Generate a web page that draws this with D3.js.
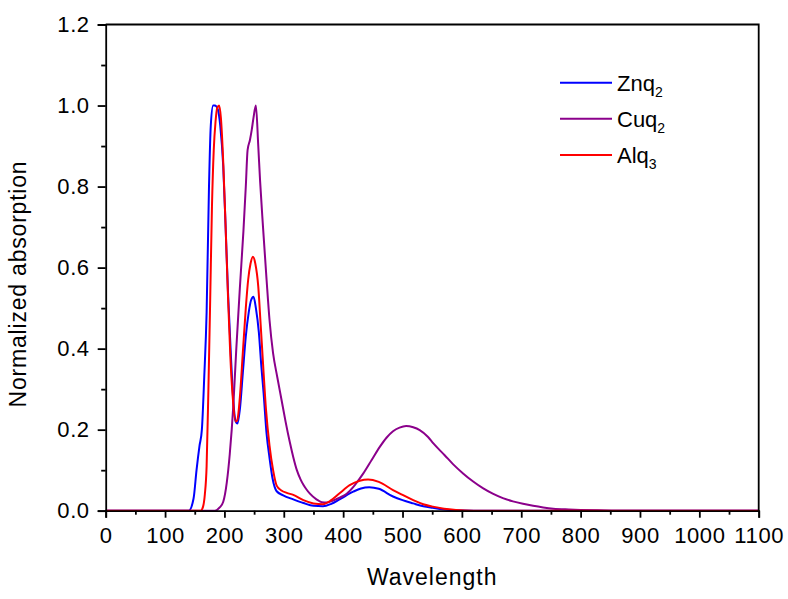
<!DOCTYPE html>
<html>
<head>
<meta charset="utf-8">
<script src="https://cdn.jsdelivr.net/npm/d3@7"></script>
<style>
  html, body { margin: 0; padding: 0; background: #fff; }
  svg { display: block; font-family: "Liberation Sans", Arial, sans-serif; }
</style>
</head>
<body>
<svg id="chart" width="788" height="599"></svg>
<script>
// ---- data ----
const seriesNames = ["Znq", "Cuq", "Alq"];
const seriesSubs = ["2", "2", "3"];
const seriesColors = ["#0000ff", "#8b008b", "#ff0000"];

const znqWave = [0, 140, 148, 153, 158, 162, 166, 170, 174, 177, 181, 184, 189, 193, 198, 202, 206, 211, 215, 219, 222, 226, 231, 236, 241, 245, 249, 253, 258, 262, 266, 271, 276, 281, 288, 299, 316, 333, 350, 366, 380, 394, 417, 430, 444, 460, 484, 500, 518, 535, 551, 570, 590, 620, 1100];
const znqAbs  = [0, 0, 0.03, 0.10, 0.16, 0.20, 0.33, 0.49, 0.80, 0.95, 1.0, 1.0, 0.99, 0.95, 0.85, 0.70, 0.54, 0.38, 0.27, 0.22, 0.215, 0.25, 0.34, 0.43, 0.49, 0.52, 0.528, 0.50, 0.44, 0.36, 0.29, 0.19, 0.13, 0.08, 0.048, 0.038, 0.028, 0.019, 0.012, 0.011, 0.017, 0.028, 0.047, 0.055, 0.058, 0.054, 0.035, 0.026, 0.018, 0.011, 0.007, 0.003, 0.001, 0, 0];

const cuqWave = [0, 184, 192, 198, 204, 209, 215, 220, 226, 232, 236, 239, 243, 246, 249, 253, 257, 260, 265, 271, 276, 282, 289, 296, 303, 310, 316, 322, 328, 333, 338, 344, 355, 364, 372, 385, 394, 406, 420, 434, 448, 462, 473, 484, 495, 506, 518, 529, 543, 552, 571, 585, 602, 619, 636, 652, 669, 686, 703, 720, 737, 754, 780, 800, 830, 860, 1100];
const cuqAbs  = [0, 0, 0.008, 0.022, 0.07, 0.14, 0.26, 0.40, 0.55, 0.69, 0.80, 0.89, 0.915, 0.94, 0.97, 1.0, 0.90, 0.816, 0.70, 0.57, 0.47, 0.388, 0.33, 0.275, 0.22, 0.17, 0.132, 0.10, 0.078, 0.064, 0.053, 0.042, 0.028, 0.021, 0.02, 0.026, 0.032, 0.042, 0.064, 0.092, 0.125, 0.158, 0.18, 0.196, 0.205, 0.209, 0.206, 0.199, 0.182, 0.166, 0.137, 0.115, 0.092, 0.072, 0.055, 0.042, 0.031, 0.023, 0.017, 0.012, 0.008, 0.005, 0.003, 0.002, 0.001, 0, 0];

const alqWave = [0, 160, 164, 167, 170, 173, 176, 179, 182, 185, 188, 191, 194, 198, 202, 206, 210, 214, 219, 222, 226, 231, 236, 240, 244, 248, 252, 257, 261, 265, 270, 276, 282, 288, 296, 305, 316, 333, 350, 366, 380, 394, 411, 428, 442, 460, 484, 500, 518, 535, 551, 570, 590, 620, 1100];
const alqAbs  = [0, 0, 0.01, 0.04, 0.11, 0.30, 0.52, 0.75, 0.89, 0.96, 0.995, 1.0, 0.97, 0.86, 0.70, 0.53, 0.38, 0.28, 0.22, 0.225, 0.28, 0.39, 0.50, 0.57, 0.61, 0.627, 0.61, 0.553, 0.46, 0.364, 0.25, 0.16, 0.10, 0.062, 0.050, 0.044, 0.039, 0.026, 0.018, 0.016, 0.026, 0.043, 0.063, 0.074, 0.077, 0.071, 0.051, 0.039, 0.026, 0.016, 0.010, 0.005, 0.002, 0, 0];

const xTicks = [0, 100, 200, 300, 400, 500, 600, 700, 800, 900, 1000, 1100];
const yTicks = [0.0, 0.2, 0.4, 0.6, 0.8, 1.0, 1.2];
const xTitle = "Wavelength";
const yTitle = "Normalized absorption";

// ---- layout ----
const svg = d3.select("#chart");
const L = 105.7, R = 758.7, T = 24.5, B = 510.7;
const x = d3.scaleLinear().domain([0, 1100]).range([L, R]);
const y = d3.scaleLinear().domain([0, 1.2]).range([B, T]);

const series = [
  { wave: znqWave, abs: znqAbs },
  { wave: cuqWave, abs: cuqAbs },
  { wave: alqWave, abs: alqAbs }
];

// curves (drawn in order: blue, purple, red on top)
const line = d3.line().x(d => x(d[0])).y(d => y(d[1])).curve(d3.curveMonotoneX);
const plot = svg.append("g");
series.forEach((s, i) => {
  const pts = s.wave.map((w, k) => [w, s.abs[k]]);
  plot.append("path").datum(pts)
    .attr("d", line)
    .attr("fill", "none")
    .attr("stroke", seriesColors[i])
    .attr("stroke-width", 2)
    .attr("stroke-linejoin", "round");
});

// axes
const xMinor = d3.range(50, 1100, 100);
const yMinor = d3.range(0.1, 1.2, 0.2);

svg.append("g").attr("transform", `translate(0,${B})`)
  .call(d3.axisBottom(x).tickValues(xTicks).tickFormat(d3.format("d")).tickSize(7).tickPadding(10));
svg.append("g").attr("transform", `translate(0,${B})`)
  .call(d3.axisBottom(x).tickValues(xMinor).tickFormat("").tickSize(4).tickSizeOuter(0))
  .select(".domain").remove();

svg.append("g").attr("transform", `translate(${L},0)`)
  .call(d3.axisLeft(y).tickValues(yTicks).tickFormat(d3.format(".1f")).tickSize(8).tickPadding(8));
svg.append("g").attr("transform", `translate(${L},0)`)
  .call(d3.axisLeft(y).tickValues(yMinor).tickFormat("").tickSize(4.5).tickSizeOuter(0))
  .select(".domain").remove();

svg.selectAll(".tick line").attr("stroke", "#000").attr("stroke-width", 1.8);
svg.selectAll(".domain").attr("stroke", "#000").attr("stroke-width", 1.8);
svg.selectAll(".tick text").attr("fill", "#000").style("font-size", "22px").style("letter-spacing", "0.6px")
  .style("font-family", '"Liberation Sans", Arial, sans-serif');

// frame: top and right edges
svg.append("path")
  .attr("d", `M${L},${T}H${R}V${B}`)
  .attr("fill", "none").attr("stroke", "#000").attr("stroke-width", 1.8);

// titles
svg.append("text")
  .attr("x", (L + R) / 2).attr("y", 585)
  .attr("text-anchor", "middle")
  .style("font-size", "23px").style("letter-spacing", "1px")
  .text(xTitle);

svg.append("text")
  .attr("transform", `translate(25.5,284) rotate(-90)`)
  .attr("text-anchor", "middle")
  .style("font-size", "23px").style("letter-spacing", "0.8px")
  .text(yTitle);

// legend
const lg = svg.append("g");
const legendY = [82.7, 118.7, 155];
seriesNames.forEach((n, i) => {
  const ly = legendY[i];
  lg.append("line").attr("x1", 560).attr("x2", 612).attr("y1", ly).attr("y2", ly)
    .attr("stroke", seriesColors[i]).attr("stroke-width", 2);
  const t = lg.append("text").attr("x", 617).attr("y", ly + 8).style("font-size", "22px");
  t.append("tspan").text(n);
  t.append("tspan").attr("dy", 6).style("font-size", "14px").text(seriesSubs[i]);
});
</script>
</body>
</html>
